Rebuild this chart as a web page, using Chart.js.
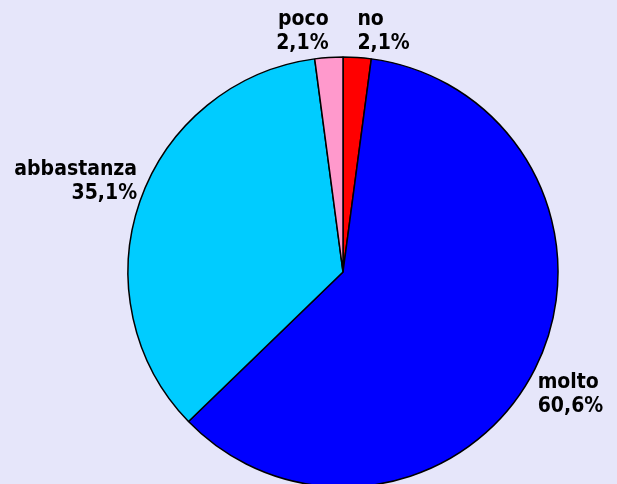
<!DOCTYPE html>
<html>
<head>
<meta charset="utf-8">
<script src="https://cdn.jsdelivr.net/npm/chart.js@4"></script>
<style>
  html, body { margin: 0; padding: 0; background: #E6E6FA; overflow: hidden; }
  #wrap { width: 617px; height: 484px; overflow: hidden; }
</style>
</head>
<body>
<div id="wrap"><canvas id="pieChart" width="617" height="490"></canvas></div>
<script>
const labels = ["no", "molto", "abbastanza", "poco"];
const percents = [2.1, 60.6, 35.1, 2.1];
const SLICE_COLORS = ["#FF0000", "#0000FF", "#00CCFF", "#FF99CC"];

const LABEL_FONT = "bold 21px 'DejaVu Sans Condensed', 'DejaVu Sans', sans-serif";

// draws the "name / value%" labels outside each slice, excel style
const outsideLabels = {
    id: "outsideLabels",
    afterDatasetsDraw(chart) {
        const ctx = chart.ctx;
        const arcs = chart.getDatasetMeta(0).data;
        ctx.save();
        ctx.font = LABEL_FONT;
        ctx.fillStyle = "#000";
        arcs.forEach((arc, i) => {
            const mid = (arc.startAngle + arc.endAngle) / 2;
            const r = arc.outerRadius;
            const px = arc.x + Math.cos(mid) * (r + 3);
            const py = arc.y + Math.sin(mid) * (r + 8);
            const lines = [labels[i], percents[i].toFixed(1).replace(".", ",") + "%"];
            ctx.textAlign = Math.cos(mid) >= 0 ? "left" : "right";
            ctx.textBaseline = "alphabetic";
            if (Math.sin(mid) < 0) {
                for (let j = 0; j < lines.length; j++) {
                    ctx.fillText(lines[j], px, py - 24 * (lines.length - 1 - j));
                }
            } else {
                for (let j = 0; j < lines.length; j++) {
                    ctx.fillText(lines[j], px, py + 16 + 24 * j);
                }
            }
        });
        ctx.restore();
    }
};

const ctx = document.getElementById("pieChart").getContext("2d");

const pieChart = new Chart(ctx, {
    type: "pie",
    data: {
        labels: labels,
        datasets: [{
            data: percents,
            backgroundColor: SLICE_COLORS,
            borderColor: "#000000",
            borderWidth: 1.5
        }]
    },
    options: {
        responsive: false,
        animation: false,
        radius: 215,
        layout: { padding: { left: 128, right: 59, top: 57, bottom: 3 } },
        plugins: {
            legend: { display: false },
            tooltip: { enabled: false }
        },
        events: []
    },
    plugins: [outsideLabels]
});
</script>
</body>
</html>
